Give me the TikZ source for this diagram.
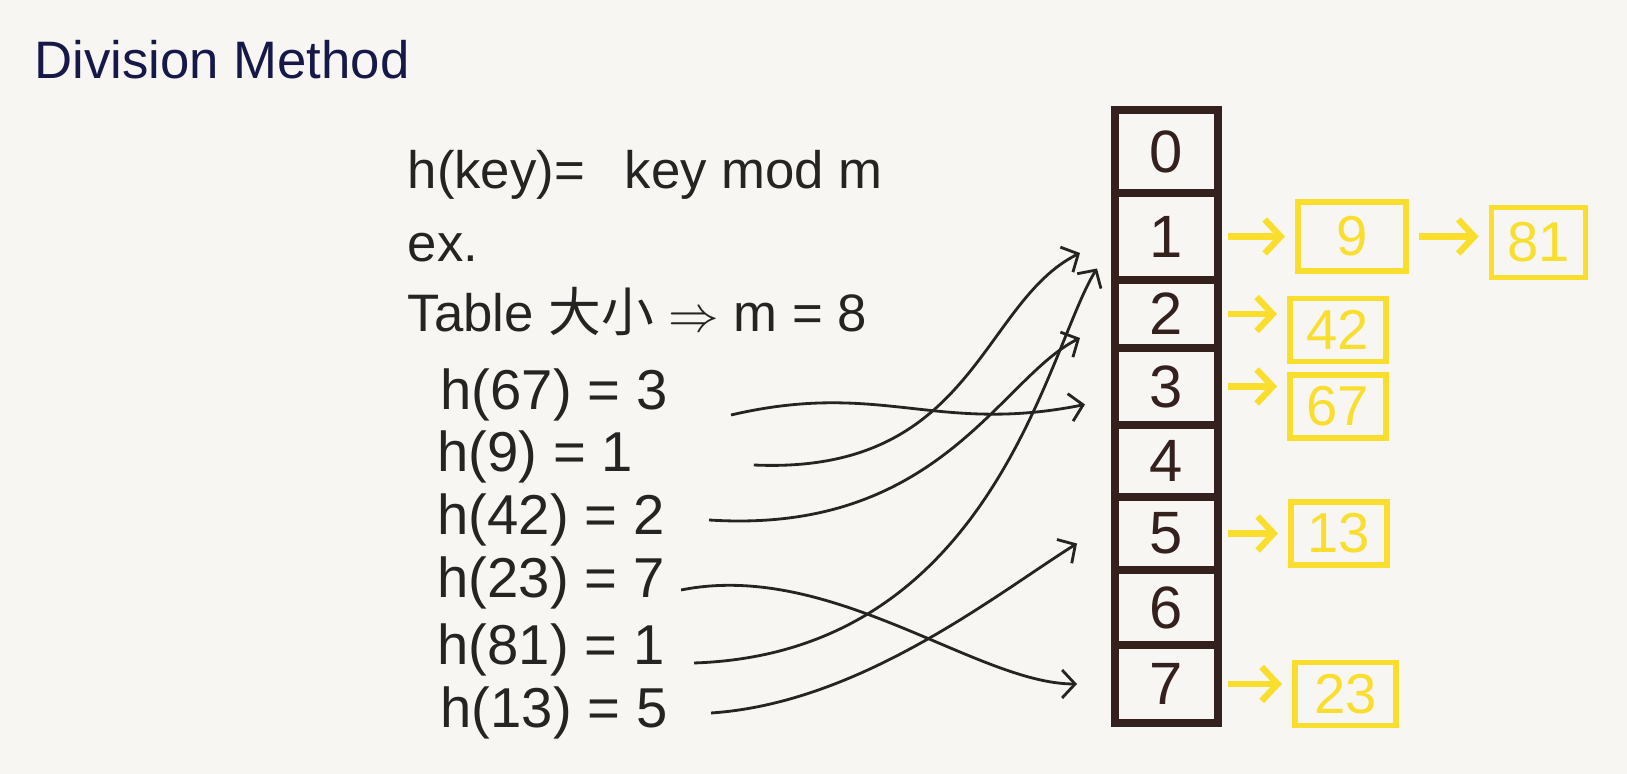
\documentclass[tikz,border=0pt]{standalone}
\usepackage{fontspec}
\setmainfont{Liberation Sans}
\newfontfamily\cjk{Noto Sans CJK SC}
\usetikzlibrary{positioning, arrows.meta}

\definecolor{paper}{RGB}{247,246,243}
\definecolor{ink}{RGB}{38,36,34}
\definecolor{marker}{RGB}{52,32,28}
\definecolor{titleink}{RGB}{22,24,72}
\definecolor{hilite}{RGB}{250,222,45}

\tikzstyle{cell} = [rectangle, draw=marker, line width=2.4pt, minimum width=10.3mm, inner sep=0pt, outer sep=0pt, text=marker, text centered, font=\fontsize{17}{20}\selectfont]
\tikzstyle{bucket} = [rectangle, draw=hilite, line width=1.6pt, minimum width=9.6mm, minimum height=5.5mm, text=hilite, font=\fontsize{16}{18}\selectfont]
\tikzstyle{eqn} = [anchor=west, inner sep=0pt, text=ink, font=\fontsize{16}{19}\selectfont]
\tikzstyle{line} = [anchor=west, inner sep=0pt, text=ink, font=\fontsize{15}{18}\selectfont]
\tikzstyle{link} = [draw=ink, line width=0.8pt, -{Straight Barb[length=1.3mm,width=2.8mm]}]
\tikzstyle{chain} = [draw=hilite, line width=1.8pt, -{Straight Barb[length=1.6mm,width=3.4mm]}, shorten <=1mm, shorten >=1mm]

\begin{document}
\begin{tikzpicture}
            \fill[paper] (0,0) rectangle (16.27,7.74);
            \useasboundingbox (0,0) rectangle (16.27,7.74);

            % left side
            \node (title) [text=titleink, font=\fontsize{15}{18}\selectfont] at (2.22,7.14) {Division Method};
            \node (hash)  [line] at (4.07,5.99) {h(key)=\hspace{4mm}key mod m};
            \node (ex)    [line] at (4.07,5.26) {ex.};
            \node (size)  [line] at (4.07,4.62) {Table {\cjk 大小} $\Rightarrow$ m = 8};

            \node (e67) [eqn] at (4.40,3.79) {h(67) = 3};
            \node (e9)  [eqn] at (4.37,3.17) {h(9) = 1};
            \node (e42) [eqn] at (4.37,2.54) {h(42) = 2};
            \node (e23) [eqn] at (4.37,1.91) {h(23) = 7};
            \node (e81) [eqn] at (4.37,1.24) {h(81) = 1};
            \node (e13) [eqn] at (4.40,0.61) {h(13) = 5};

            % table
            \node (c0) [cell, minimum height=8.3mm] at (11.665,6.225) {0};
            \node (c1) [cell, minimum height=8.7mm, below=0pt of c0] {1};
            \node (c2) [cell, minimum height=6.8mm, below=0pt of c1] {2};
            \node (c3) [cell, minimum height=7.7mm, below=0pt of c2] {3};
            \node (c4) [cell, minimum height=7.2mm, below=0pt of c3] {4};
            \node (c5) [cell, minimum height=7.3mm, below=0pt of c4] {5};
            \node (c6) [cell, minimum height=7.5mm, below=0pt of c5] {6};
            \node (c7) [cell, minimum height=7.8mm, below=0pt of c6] {7};

            % buckets
            \node (b9)  [bucket, minimum width=10.8mm, minimum height=6.9mm, right=0.77cm of c1] {9};
            \node (b81) [bucket, minimum width=9.4mm, minimum height=7mm, right=0.80cm of b9, yshift=-0.06cm] {81};
            \node (b42) [bucket, right=0.69cm of c2, yshift=-0.16cm] {42};
            \node (b67) [bucket, right=0.69cm of c3, yshift=-0.2cm] {67};
            \node (b13) [bucket, right=0.70cm of c5] {13};
            \node (b23) [bucket, minimum width=10.1mm, right=0.74cm of c7, yshift=-0.1cm] {23};

            \draw [chain] (c1.east) -- (c1.east -| b9.west);
            \draw [chain] (b9.east) -- (b9.east -| b81.west);
            \draw [chain] (c2.east) -- (c2.east -| b42.west);
            \draw [chain] (c3.east) -- (c3.east -| b67.west);
            \draw [chain] (c5.east) -- (c5.east -| b13.west);
            \draw [chain] (c7.east) -- (c7.east -| b23.west);

            % keys to slots
            \draw [link] ([shift={(0.63,-0.20)}]e67.east) .. controls +(1.5,0.35) and +(-1.5,-0.3) .. ([shift={(-0.30,-0.18)}]c3.west);
            \draw [link] ([shift={(1.20,-0.08)}]e9.east) .. controls +(2.2,-0.1) and +(-1.0,-0.5) .. ([shift={(-0.35,-0.165)}]c1.west);
            \draw [link] ([shift={(0.44,0)}]e42.east) .. controls +(2.3,-0.15) and +(-0.8,-0.4) .. ([shift={(-0.35,-0.24)}]c2.west);
            \draw [link] ([shift={(0.16,-0.07)}]e23.east) .. controls +(1.5,0.3) and +(-1.0,0) .. ([shift={(-0.38,0)}]c7.west);
            \draw [link] ([shift={(0.29,-0.13)}]e81.east) .. controls +(3.0,0.1) and +(-0.5,-0.8) .. ([shift={(-0.18,-0.32)}]c1.west);
            \draw [link] ([shift={(0.43,0)}]e13.east) .. controls +(1.5,0.1) and +(-0.8,-0.5) .. ([shift={(-0.38,-0.10)}]c5.west);
        \end{tikzpicture}
\end{document}
